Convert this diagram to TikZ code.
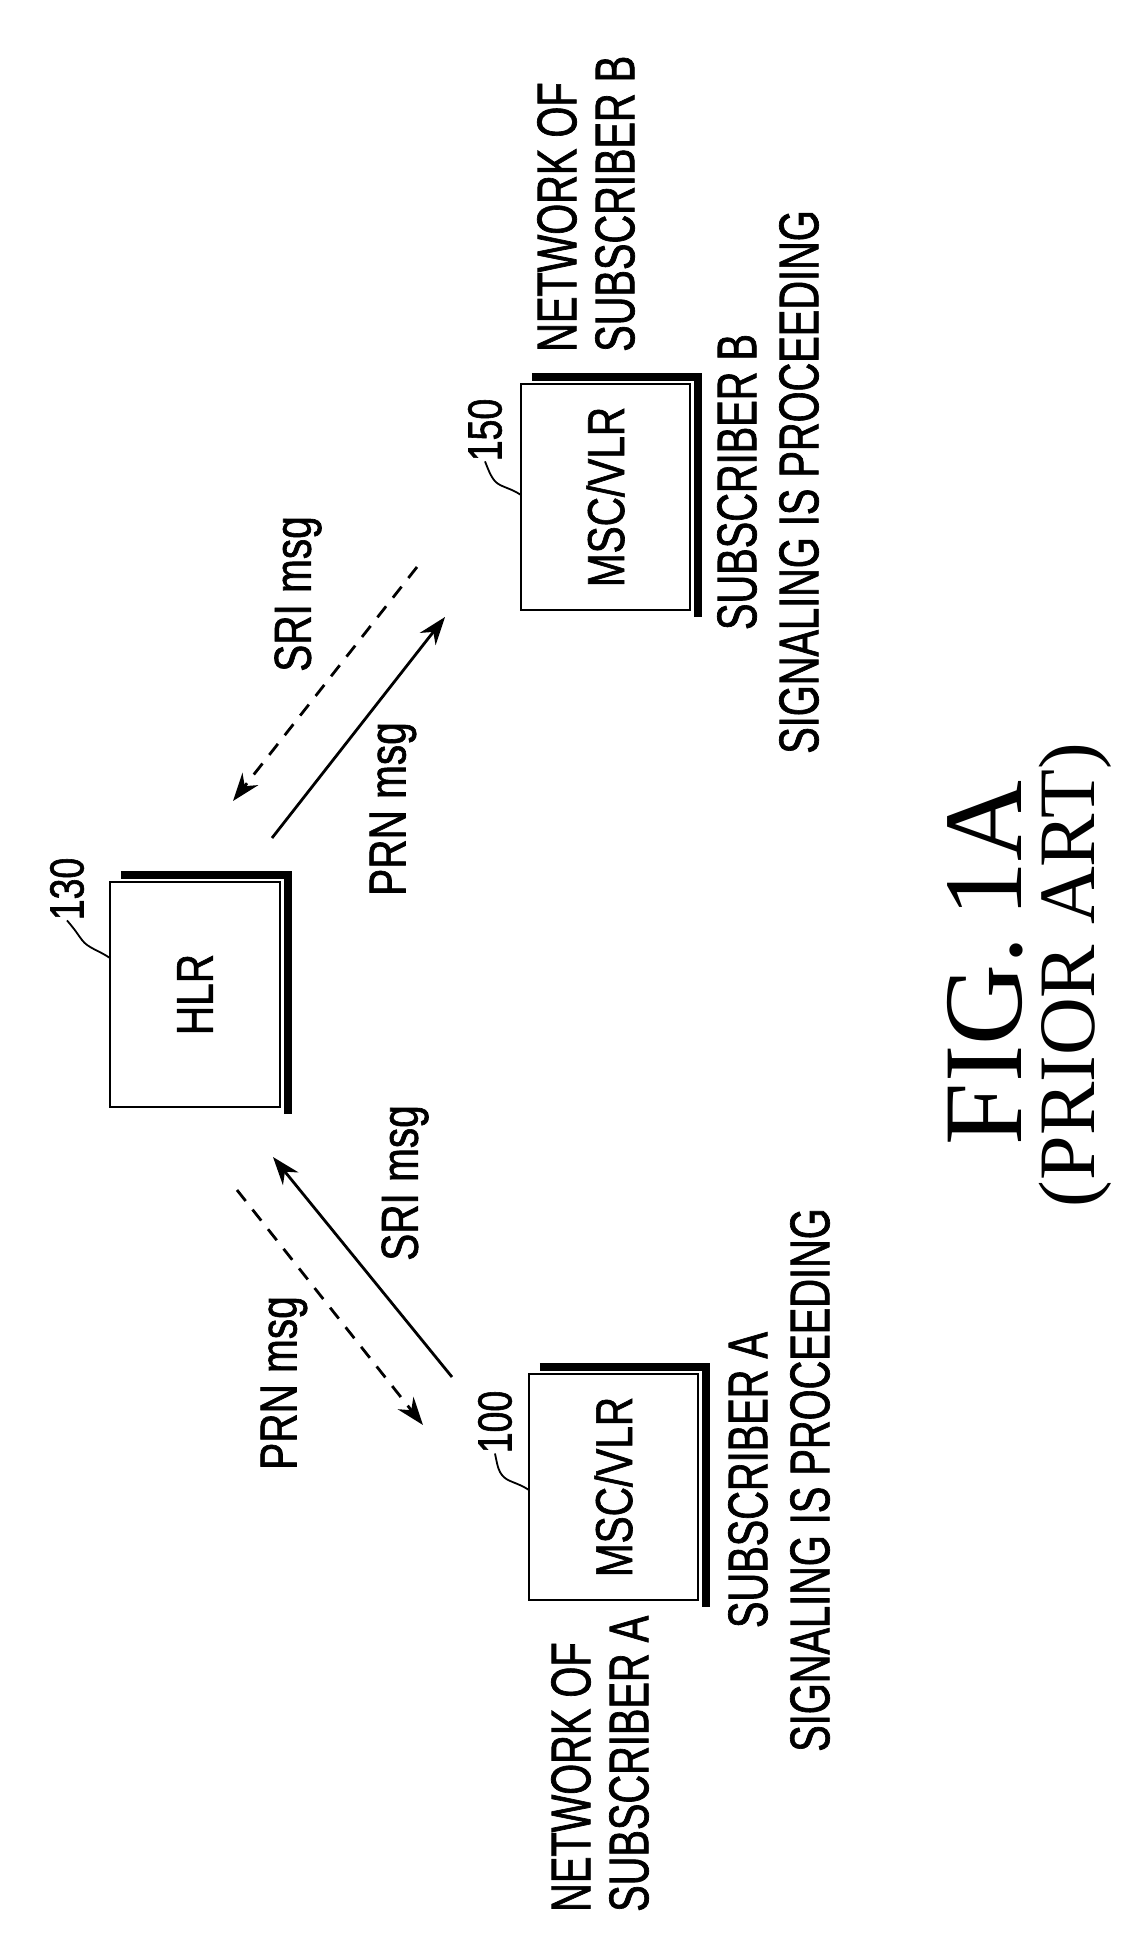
\documentclass[tikz,border=0pt]{standalone}
\usepackage{fontspec}
\setmainfont{Liberation Serif}
\newfontfamily\condf[FakeStretch=0.71,FakeBold=1.2]{Liberation Sans}
\newfontfamily\msgf[FakeStretch=0.78,FakeBold=1.2]{Liberation Sans}
\usetikzlibrary{arrows.meta}
\begin{document}
\begin{tikzpicture}[x=1pt,y=-1pt,
  lbl/.style={font=\condf\fontsize{56}{58}\selectfont, rotate=90, inner sep=0pt},
  num/.style={font=\msgf\fontsize{48}{50}\selectfont, rotate=90, inner sep=0pt},
  mlbl/.style={font=\msgf\fontsize{52}{56}\selectfont, rotate=90, inner sep=0pt},
  box/.style={draw, line width=2.5pt, inner sep=0pt},
  shadow/.style={line width=8pt},
  msg/.style={line width=2.8pt, -{Stealth[length=28pt,width=20pt]}},
  dmsg/.style={msg, dash pattern=on 14pt off 11pt}]
\useasboundingbox (0,0) rectangle (1129,1956);
% boxes
\node[box, minimum width=170pt, minimum height=225pt] (hlr) at (195,994.5) {};
\node[box, minimum width=169pt, minimum height=226pt] (mb) at (605.5,497) {};
\node[box, minimum width=169pt, minimum height=226pt] (ma) at (613.5,1487) {};
\foreach \b in {hlr,mb,ma}{
  \draw[shadow] ([shift={(12,-6)}]\b.north west) -- ([shift={(7,-6)}]\b.north east) -- ([shift={(7,6)}]\b.south east);
}
\node[mlbl] (hlrt) at (hlr.center) {HLR};
\node[mlbl] (mbt) at (mb.center) {MSC/VLR};
\node[mlbl] (mat) at (ma.center) {MSC/VLR};
% reference numerals
\node[num] (n130) at (67,889) {130};
\node[num] (n150) at (485,430) {150};
\node[num] (n100) at (495,1422) {100};
\coordinate (c130) at (110,958);
\coordinate (c150) at (521,495);
\coordinate (c100) at (529,1490);
\draw[line width=1.8pt] (c130) .. controls (98,950) and (88,948) .. (82,940) .. controls (78,935) and (77,932) .. (n130.west);
\draw[line width=1.8pt] (c150) .. controls (509,487) and (499,487) .. (494,480) .. controls (491,476) and (490,474) .. (n150.west);
\draw[line width=1.8pt] (c100) .. controls (517,1482) and (507,1482) .. (502,1475) .. controls (499,1471) and (498,1469) .. (n100.west);
% arrows
\coordinate (t1) at (272,838); \coordinate (t2) at (445,617);
\coordinate (t3) at (417,567); \coordinate (t4) at (233,801);
\coordinate (b1) at (452,1377); \coordinate (b2) at (273,1157);
\coordinate (b3) at (237,1190); \coordinate (b4) at (423,1425);
\draw[msg] (t1) -- (t2);
\draw[dmsg] (t3) -- (t4);
\draw[msg] (b1) -- (b2);
\draw[dmsg] (b3) -- (b4);
\node[mlbl] (sri1) at (298,594) {SRI msg};
\node[mlbl] (prn1) at (393,809) {PRN msg};
\node[mlbl] (sri2) at (405,1183) {SRI msg};
\node[mlbl] (prn2) at (284,1383) {PRN msg};
% captions
\node[lbl, align=left, anchor=west] (netb) at (586,352) {NETWORK OF\\SUBSCRIBER B};
\node[lbl, align=left, anchor=west] (neta) at (600,1912) {NETWORK OF\\SUBSCRIBER A};
\node[lbl, align=center] (sigb) at (768,482) {SUBSCRIBER B\\[4pt]SIGNALING IS PROCEEDING};
\node[lbl, align=center] (siga) at (779,1480) {SUBSCRIBER A\\[4pt]SIGNALING IS PROCEEDING};
\node[rotate=90, inner sep=0pt, font=\fontsize{112}{112}\selectfont] (fig) at (985,963) {FIG.\,1A};
\node[rotate=90, inner sep=0pt, font=\fontsize{80}{80}\selectfont] (prior) at (1075,975) {(PRIOR ART)};
\end{tikzpicture}
\end{document}
